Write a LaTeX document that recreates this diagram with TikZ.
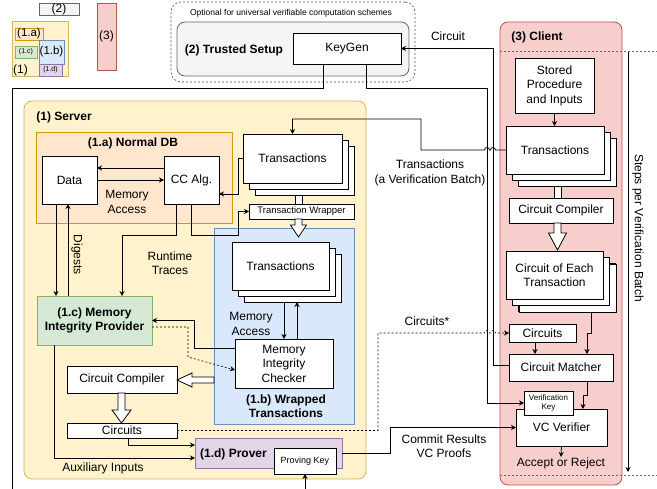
\documentclass[tikz,border=0pt]{standalone}
\usepackage{fontspec}
\setmainfont{Liberation Sans}
\usetikzlibrary{arrows.meta,shadows}

\definecolor{giallof}{HTML}{FFF2CC}
\definecolor{giallob}{HTML}{D6B656}
\definecolor{aranciof}{HTML}{FFE6CC}
\definecolor{aranciob}{HTML}{D79B00}
\definecolor{bluf}{HTML}{DAE8FC}
\definecolor{blub}{HTML}{6C8EBF}
\definecolor{verdef}{HTML}{D5E8D4}
\definecolor{verdeb}{HTML}{82B366}
\definecolor{violaf}{HTML}{E1D5E7}
\definecolor{violab}{HTML}{9673A6}
\definecolor{rossof}{HTML}{F8CECC}
\definecolor{rossob}{HTML}{B85450}
\definecolor{grigiof}{HTML}{F5F5F5}
\definecolor{grigiob}{HTML}{666666}

\newcommand{\fsz}[2]{\fontsize{#1pt}{#2pt}\selectfont}
% freccia cava verso il basso: x, y inizio, y punta, lunghezza testa, mezza larghezza testa
\newcommand{\frecciagiu}[5]{%
  \draw[fill=white] ({#1-3.5},#2) -- ({#1-3.5},{#3-#4}) -- ({#1-#5},{#3-#4}) -- (#1,#3)
    -- ({#1+#5},{#3-#4}) -- ({#1+3.5},{#3-#4}) -- ({#1+3.5},#2) -- cycle;}
% freccia cava verso sinistra: x inizio, x punta, y, lunghezza testa, mezza larghezza testa
\newcommand{\frecciasx}[5]{%
  \draw[fill=white] (#1,{#3-3}) -- ({#2+#4},{#3-3}) -- ({#2+#4},{#3-#5}) -- (#2,#3)
    -- ({#2+#4},{#3+#5}) -- ({#2+#4},{#3+3}) -- (#1,{#3+3}) -- cycle;}

\begin{document}
\begin{tikzpicture}[x=1pt,y=-1pt,line width=0.8pt,>={Stealth[length=5pt,width=5pt]},
    box/.style={draw,fill=white,inner sep=0pt,outer sep=0pt,align=center,font=\fsz{12}{14.5}},
    area/.style={draw,inner sep=0pt,outer sep=0pt,align=center},
    titolo/.style={font=\bfseries\fsz{12}{14.5},align=center,inner sep=0pt},
    testo/.style={font=\fsz{12}{14.5},align=center,inner sep=0pt},
    pila/.style={box,double copy shadow={shadow xshift=6pt,shadow yshift=-6pt}},
    punt/.style={dash pattern=on 2pt off 2pt}]
  \useasboundingbox (0,0) rectangle (657,489);
  \clip (0,0) rectangle (657,489);

  % Legenda
  \node[area,fill=grigiof,draw=grigiob,minimum width=40,minimum height=12,font=\fsz{12}{14}] (leg2) at (59,9) {(2)};
  \node[area,fill=rossof,draw=rossob,minimum width=19,minimum height=67,font=\fsz{12}{14}] (leg3) at (106.5,36.5) {(3)};
  \node[area,fill=giallof,draw=giallob,minimum width=56,minimum height=55] (leg1) at (40,48.5) {};
  \node[testo] (leg1t) at (20.5,70) {(1)};
  \node[area,fill=aranciof,draw=aranciob,minimum width=28,minimum height=12,font=\fsz{11.5}{13}] (leg1a) at (29,34) {(1.a)};
  \node[area,fill=verdef,draw=verdeb,minimum width=22,minimum height=12,font=\fsz{7}{8}] (leg1c) at (26,52) {(1.c)};
  \node[area,fill=bluf,draw=blub,minimum width=25,minimum height=24,font=\fsz{11.5}{13}] (leg1b) at (51.5,52) {(1.b)};
  \node[area,fill=violaf,draw=violab,minimum width=23,minimum height=12,font=\fsz{7}{8}] (leg1d) at (50.5,70) {(1.d)};

  % Trusted setup
  \node[area,draw=black!70,punt,line width=0.6pt,rounded corners=10,minimum width=244,minimum height=80] (opz) at (293,42) {};
  \node[testo,font=\fsz{8.5}{10}] (opzt) at (291,13) {Optional for universal verifiable computation schemes};
  \node[area,fill=grigiof,draw=grigiob,rounded corners=8,minimum width=232,minimum height=54] (setup) at (293,49) {};
  \node[titolo] (setupt) at (234,50) {(2) Trusted Setup};
  \node[box,minimum width=108,minimum height=31] (keygen) at (347,48.5) {KeyGen};

  % Server
  \node[area,fill=giallof,draw=giallob,rounded corners=8,minimum width=342,minimum height=378] (server) at (195,290) {};
  \node[titolo,anchor=west] (servert) at (36,117) {(1) Server};
  \node[area,fill=aranciof,draw=aranciob,minimum width=196,minimum height=91] (normaldb) at (134,177.5) {};
  \node[titolo] (normaldbt) at (133,143) {(1.a) Normal DB};
  \node[box,minimum width=55,minimum height=48] (data) at (69.5,180) {Data};
  \node[box,minimum width=55,minimum height=48] (ccalg) at (191.5,180) {CC Alg.};
  \node[testo] (memacc) at (127,202) {Memory\\Access};
  \node[area,fill=bluf,draw=blub,minimum width=140,minimum height=196] (wrapped) at (284,326) {};
  \node[titolo] (wrappedt) at (286,406) {(1.b) Wrapped\\Transactions};
  \node[pila,minimum width=99,minimum height=49] (srvtx) at (292.5,158.5) {Transactions};
  \node[box,minimum width=105,minimum height=15,font=\fsz{9.5}{11}] (txwrap) at (301.5,211.5) {Transaction Wrapper};
  \node[pila,minimum width=97,minimum height=48] (wtx) at (280.5,266) {Transactions};
  \node[box,minimum width=98,minimum height=49] (checker) at (284,363.5) {Memory\\Integrity\\Checker};
  \node[testo] (memacc2) at (251,324) {Memory\\Access};
  \node[area,fill=verdef,draw=verdeb,font=\bfseries\fsz{12}{14.5},minimum width=115,minimum height=49] (mip) at (94.5,320.5) {(1.c) Memory\\Integrity Provider};
  \node[testo,rotate=-90] (digests) at (77,255) {Digests};
  \node[testo] (runtime) at (170,263) {Runtime\\Traces};
  \node[box,minimum width=110,minimum height=27] (srvcomp) at (122,379.5) {Circuit Compiler};
  \node[box,minimum width=110,minimum height=15] (srvcirc) at (122,430.5) {Circuits};
  \node[area,fill=violaf,draw=violab,minimum width=147,minimum height=30] (prover) at (268.5,453) {};
  \node[titolo] (provert) at (233.5,454) {(1.d) Prover};
  \node[box,minimum width=62,minimum height=26,font=\fsz{9}{10.5}] (provkey) at (305,461) {Proving Key};
  \node[testo] (aux) at (103,468) {Auxiliary Inputs};

  % Client
  \node[area,fill=rossof,draw=rossob,rounded corners=8,minimum width=122,minimum height=463] (client) at (561,253.5) {};
  \node[titolo,anchor=west] (clientt) at (511,37) {(3) Client};
  \node[box,minimum width=79,minimum height=55] (stored) at (554.5,85.5) {Stored\\Procedure\\and Inputs};
  \node[pila,minimum width=98,minimum height=48] (clitx) at (555,150) {Transactions};
  \node[box,minimum width=104,minimum height=25] (clicomp) at (561,210.5) {Circuit Compiler};
  \node[pila,double copy shadow={shadow xshift=6.5pt,shadow yshift=-6.5pt},minimum width=97,minimum height=48] (each) at (554.5,275) {Circuit of Each\\Transaction};
  \node[box,minimum width=67,minimum height=18] (clicirc) at (542.5,333) {Circuits};
  \node[box,minimum width=104,minimum height=27] (matcher) at (561,367.5) {Circuit Matcher};
  \node[box,minimum width=91,minimum height=37] (verifier) at (561.5,427.5) {VC Verifier};
  \node[box,minimum width=49,minimum height=24,font=\fsz{8}{9}] (vckey) at (548.5,403) {Verification\\Key};
  \node[testo] (accept) at (561,463) {Accept or Reject};
  \node[testo,rotate=-90] (steps) at (638,228) {Steps per Verification Batch};
  \draw[punt,black!60] (500,51) -- (657,51);
  \draw[punt,black!60] (500,475) -- (657,475);
  \coordinate (stepsa) at (628,52);
  \coordinate (stepsb) at (628,472);
  \draw[->] (stepsa) -- (stepsb);

  % Etichette dei collegamenti
  \node[testo] (circuitt) at (448,36) {Circuit};
  \node[testo] (batch) at (430,173) {Transactions\\(a Verification Batch)};
  \node[testo] (circstar) at (427,321) {Circuits*};
  \node[testo] (commit) at (444,446) {Commit Results\\VC Proofs};

  % Frecce cave
  \draw[fill=white] (295,195) rectangle (302,204);
  \frecciagiu{298.5}{219}{237}{12}{8}
  \frecciasx{214}{177}{380}{15}{7}
  \frecciagiu{121.5}{393}{423}{13}{9.5}
  \draw[fill=white] (554,186) rectangle (561,198);
  \frecciagiu{557.5}{223}{250}{17}{9}

  % Collegamenti nel server
  \draw[->] ([yshift=12pt]ccalg.west) -- ([yshift=12pt]data.east);
  \draw[->] (data.east) -- (ccalg.west);
  \draw[->] (srvtx.west) -- ++(-5,0) |- ([yshift=-14pt]ccalg.east);
  \draw[->] (ccalg.south) |- (238,235) |- (txwrap.west);
  \draw[->] ([xshift=-15.5pt]ccalg.south) -- ++(0,31) -| ([xshift=27.5pt]mip.north);
  \draw[->] ([xshift=-13.5pt]data.south) -- ([xshift=-38.5pt]mip.north);
  \draw[->] ([xshift=-26.5pt]mip.north) -- ([xshift=-1.5pt]data.south);
  \draw[->] ([yshift=15.5pt]checker.west) -| (194.5,320.5) -- (mip.east);
  \draw[->,punt,line width=0.6pt] ([yshift=-6.5pt]mip.east) -| (188,357) -- ([yshift=-6.5pt]checker.west);
  \draw[->] ([xshift=3.5pt,yshift=-12pt]wtx.south) -- (checker.north);
  \draw[->] ([xshift=13pt]checker.north) -- ([xshift=16.5pt,yshift=-12pt]wtx.south);
  \draw[->] ([xshift=6pt]srvcirc.south) |- ([yshift=8pt]prover.west);
  \draw[->] ([xshift=-40.5pt]mip.south) |- ([yshift=-5pt]prover.west);

  % Collegamenti tra server, setup e client
  \draw[->] (clitx.west) -- (495.5,150) arc[start angle=0,end angle=180,radius=2.5pt]
    -- (489.5,150) arc[start angle=0,end angle=180,radius=2.5pt] -- (421,150) -- (421,119) -| (srvtx.north);
  \draw[->] ([yshift=2.5pt]matcher.west) -- ++(-16,0) |- (keygen.east);
  \draw[->] ([xshift=19pt]keygen.south) |- (487,88) |- (vckey.west);
  \draw[->] ([xshift=-24pt]keygen.south) |- (12,88) -- (12,500) -| (provkey.south);
  \draw[->,punt,line width=0.6pt] (srvcirc.east) -- (378,430.5) -- (378,333) -- (484.5,333)
    arc[start angle=180,end angle=0,radius=2.5pt] -- (490.5,333)
    arc[start angle=180,end angle=0,radius=2.5pt] -- (clicirc.west);
  \draw[->] (prover.east) -- ++(48,0) |- (verifier.west);

  % Collegamenti nel client
  \draw[->] (stored.south) -- (stored.south |- clitx.north);
  \draw[->] ([xshift=36.5pt,yshift=-13pt]each.south) -- ++(0,21) -| ([xshift=26pt]matcher.north);
  \draw[->] ([xshift=-7.5pt]clicirc.south) -- ([xshift=-26pt]matcher.north);
  \draw[->] ([xshift=26pt]matcher.south) -- ++(0,14) -| ([xshift=21.5pt]verifier.north);
  \draw[->] (verifier.south) -- (accept.north);
\end{tikzpicture}
\end{document}
